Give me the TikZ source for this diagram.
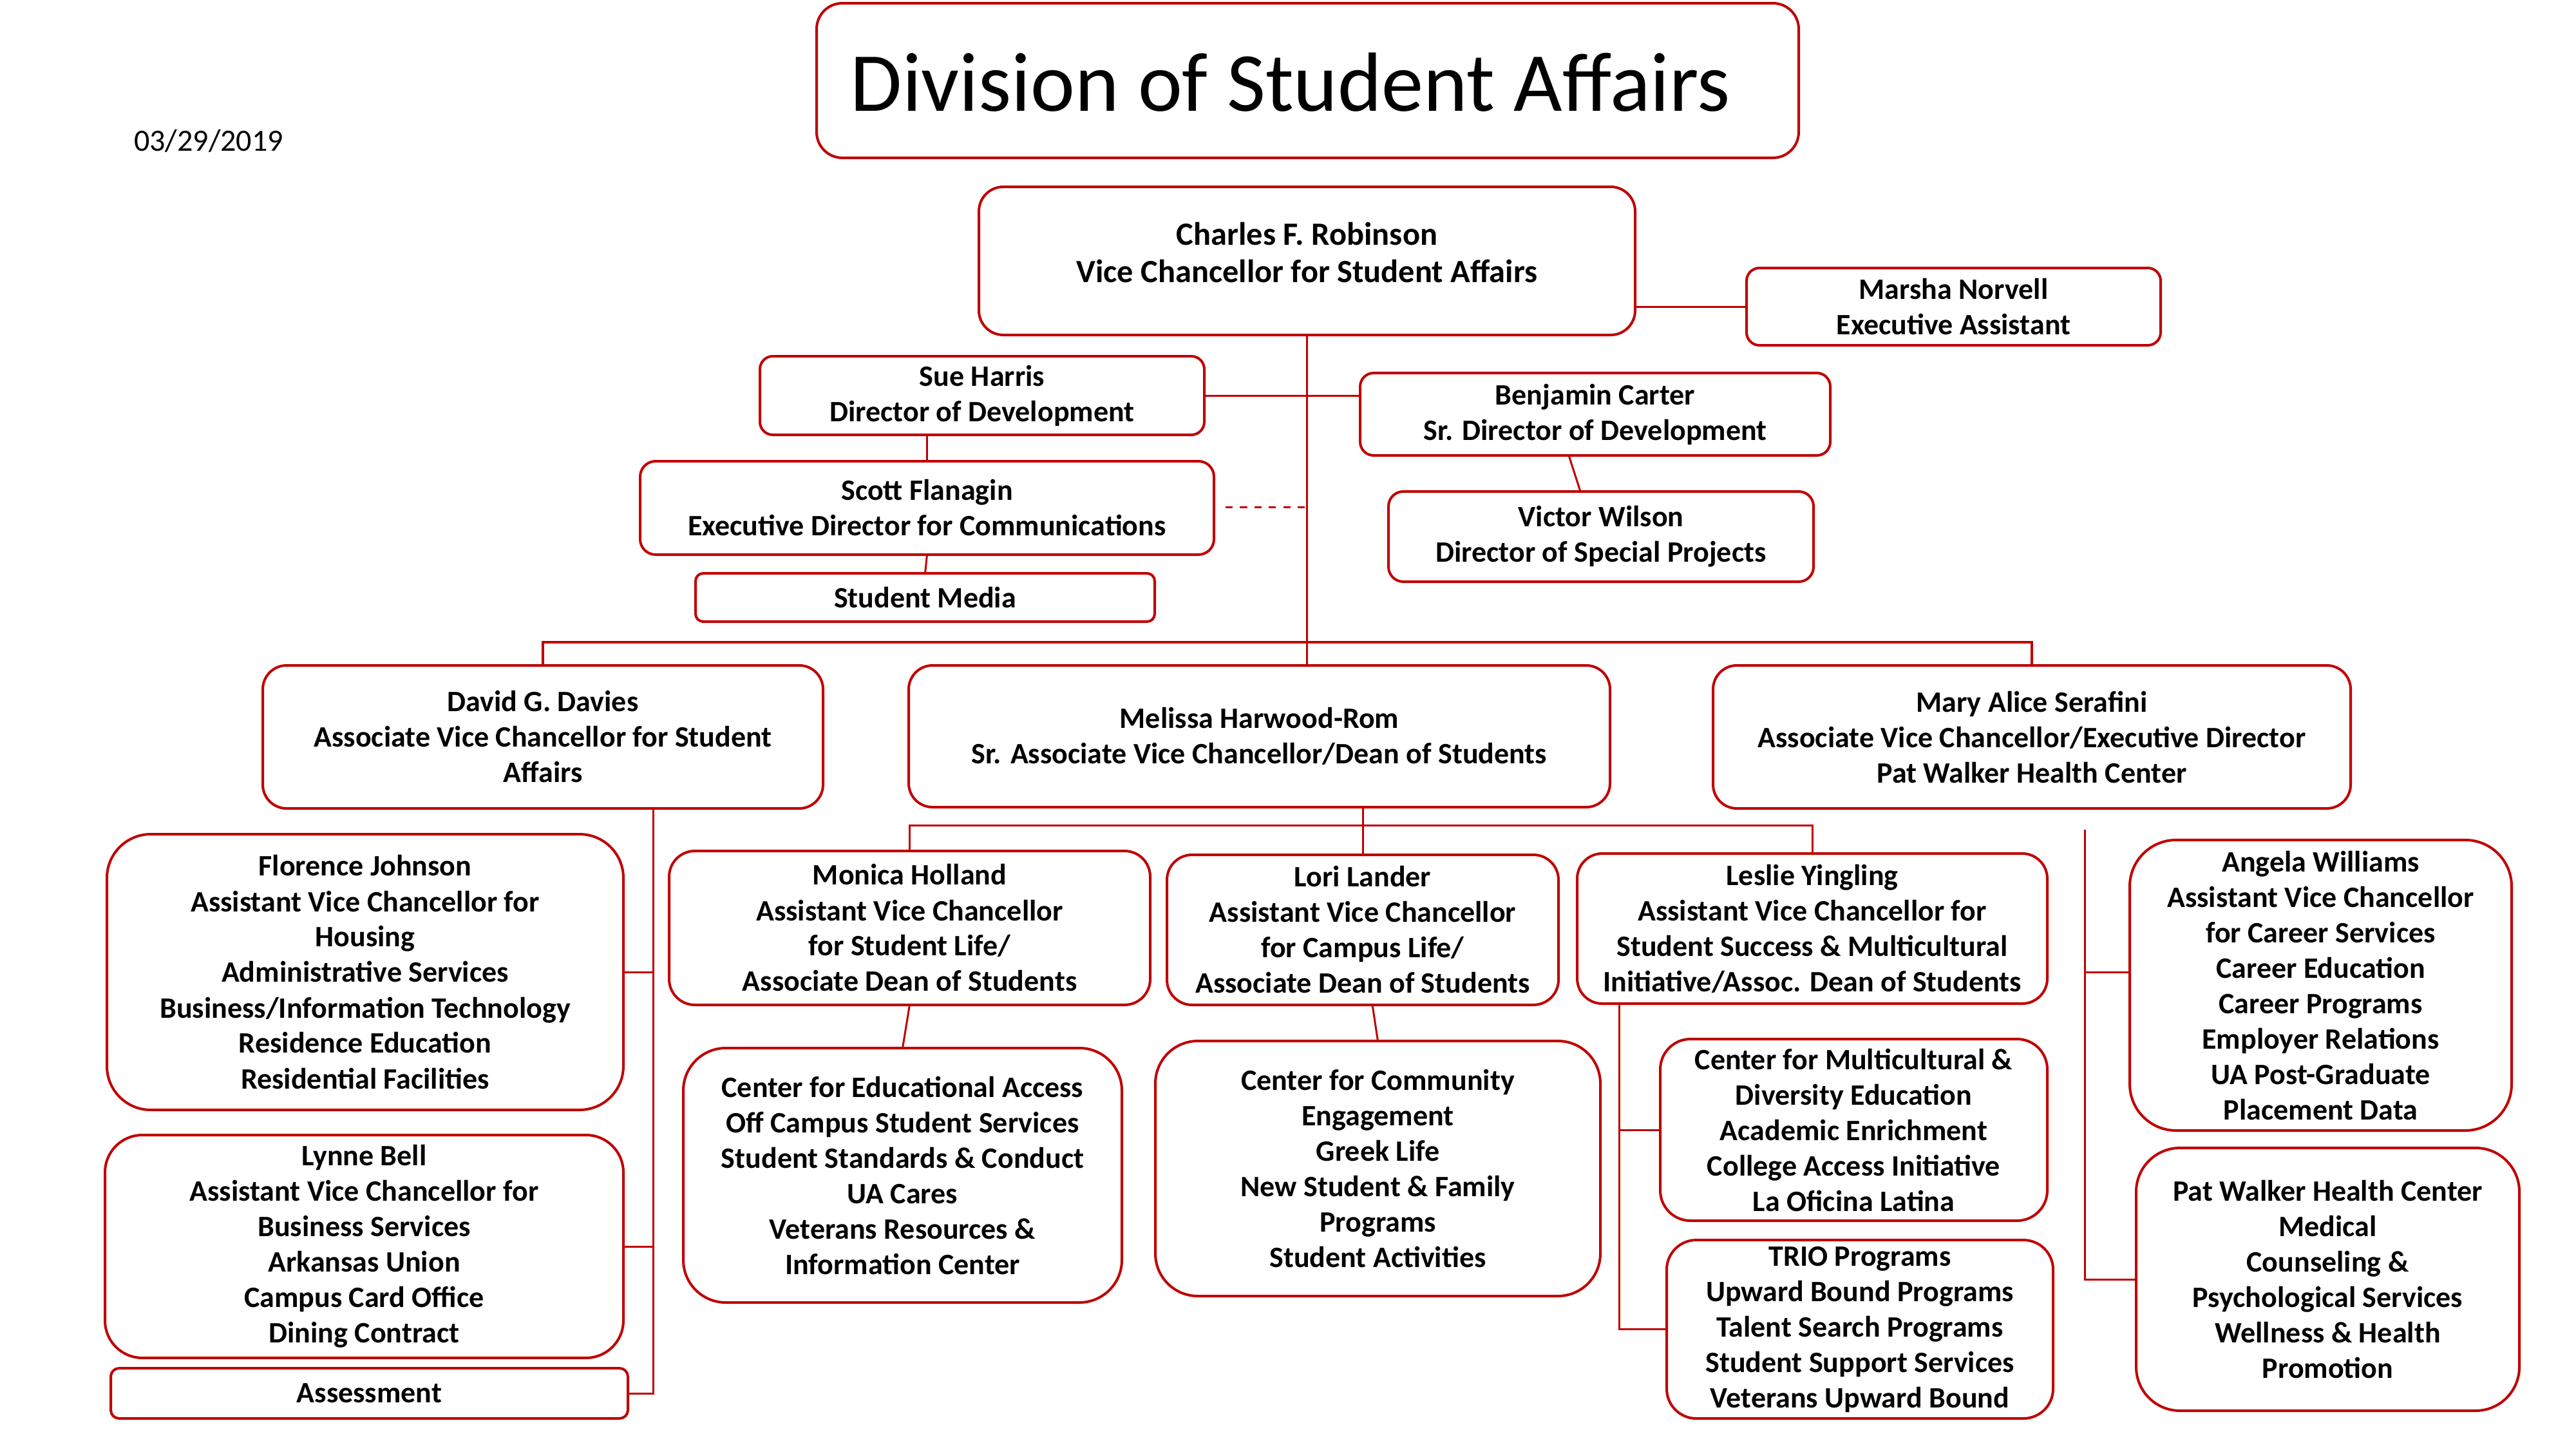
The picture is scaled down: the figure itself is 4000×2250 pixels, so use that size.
\documentclass[tikz,border=0pt]{standalone}
\usepackage{fontspec}
\setmainfont{Carlito}
\usetikzlibrary{calc}
\definecolor{ured}{HTML}{C00000}
\begin{document}
\begin{tikzpicture}[x=0.25pt,y=-0.25pt,
  box/.style={draw=ured,line width=1pt,fill=white,align=center,inner sep=0pt,outer sep=0pt,
    font=\bfseries\fontsize{11.5}{13.75}\selectfont},
  sz/.style 2 args={minimum width=#1*0.25pt,minimum height=#2*0.25pt},
  rc/.style={rounded corners=#1*0.25pt},
  link/.style={draw=ured,line width=0.75pt},
  dashlink/.style={draw=ured,line width=0.75pt,dash pattern=on 2.8pt off 2.8pt}]
\useasboundingbox (0,0) rectangle (4000,2250);

% header
\node[box,sz={1525}{240},rc=40] (title) at (2030.5,125) {};
\node[inner sep=0pt,font=\fontsize{32.6}{39}\selectfont] (titletext) at (2004,128) {Division of Student Affairs};
\node[inner sep=0pt,font=\fontsize{12}{14}\selectfont] (date) at (324,219) {03/29/2019};

% top level
\node[box,sz={1019}{230},rc=38] (charles) at (2029.5,405) {};
\node[inner sep=0pt,align=center,font=\bfseries\fontsize{12.6}{14.7}\selectfont] (charlestext) at (2029.5,392) {Charles F. Robinson\\Vice Chancellor for Student Affairs};
\node[box,sz={643}{120},rc=20] (marsha) at (3033.5,476) {Marsha Norvell\\Executive Assistant};
\node[box,sz={690}{122},rc=20] (sue) at (1525,614) {Sue Harris\\Director of Development};
\node[box,sz={730}{128},rc=21] (benjamin) at (2477,643) {Benjamin Carter\\Sr. Director of Development};
\node[box,sz={660}{140},rc=23] (victor) at (2486,833) {Victor Wilson\\Director of Special Projects};
\node[box,sz={891}{145},rc=24] (scott) at (1439.5,788.5) {Scott Flanagin\\Executive Director for Communications};
\node[box,sz={713}{75},rc=12] (media) at (1436.5,927.5) {Student Media};

% second level
\node[box,sz={870}{222},rc=37] (david) at (843,1144) {David G. Davies\\Associate Vice Chancellor for Student\\Affairs};
\node[box,sz={1089}{220},rc=37] (melissa) at (1955.5,1143) {Melissa Harwood-Rom\\Sr. Associate Vice Chancellor/Dean of Students};
\node[box,sz={990}{222},rc=37] (mary) at (3155,1144) {Mary Alice Serafini\\Associate Vice Chancellor/Executive Director\\Pat Walker Health Center};

% David's units
\node[box,sz={802}{428},rc=68] (florence) at (567,1509) {Florence Johnson\\Assistant Vice Chancellor for\\Housing\\Administrative Services\\Business/Information Technology\\Residence Education\\Residential Facilities};
\node[box,sz={805}{346},rc=58] (lynne) at (565.5,1935) {Lynne Bell\\Assistant Vice Chancellor for\\Business Services\\Arkansas Union\\Campus Card Office\\Dining Contract};
\node[box,sz={803}{78},rc=13] (assess) at (573.5,2163) {Assessment};

% Melissa's units
\node[box,sz={747}{239},rc=40] (monica) at (1412.5,1440.5) {Monica Holland\\Assistant Vice Chancellor\\for Student Life/\\Associate Dean of Students};
\node[box,sz={608}{233},rc=39] (lori) at (2116,1443.5) {Lori Lander\\Assistant Vice Chancellor\\for Campus Life/\\Associate Dean of Students};
\node[box,sz={730}{233},rc=39] (leslie) at (2814,1441.5) {Leslie Yingling\\Assistant Vice Chancellor for\\Student Success \& Multicultural\\Initiative/Assoc. Dean of Students};
\node[box,sz={681}{395},rc=66] (cea) at (1401.5,1824.5) {Center for Educational Access\\Off Campus Student Services\\Student Standards \& Conduct\\UA Cares\\Veterans Resources \&\\Information Center};
\node[box,sz={691}{396},rc=66] (community) at (2139.5,1814) {Center for Community\\Engagement\\Greek Life\\New Student \& Family\\Programs\\Student Activities};
\node[box,sz={601}{282},rc=47] (multi) at (2878.5,1754) {Center for Multicultural \&\\Diversity Education\\Academic Enrichment\\College Access Initiative\\La Oficina Latina};
\node[box,sz={600}{277},rc=46] (trio) at (2888,2063.5) {TRIO Programs\\Upward Bound Programs\\Talent Search Programs\\Student Support Services\\Veterans Upward Bound};

% Mary's units
\node[box,sz={593}{451},rc=72] (angela) at (3603.5,1529.5) {Angela Williams\\Assistant Vice Chancellor\\for Career Services\\Career Education\\Career Programs\\Employer Relations\\UA Post-Graduate\\Placement Data};
\node[box,sz={595}{408},rc=68] (pwhc) at (3614.5,1986) {Pat Walker Health Center\\Medical\\Counseling \&\\Psychological Services\\Wellness \& Health\\Promotion};

% connectors: top
\draw[link] (marsha.west -| charles.east) -- (marsha.west);
\draw[link] (charles.south) -- (charles.south |- melissa.north);
\draw[link] (sue.east) -- (sue.east -| benjamin.west);
\draw[link] (scott.north |- sue.south) -- (scott.north);
\draw[link] (scott.south) -- (media.north);
\coordinate (dsh) at (1903,787);
\draw[dashlink] (dsh) -- (dsh -| charles.south);
\draw[link] ($(benjamin.south)+(-41,0)$) -- ($(victor.north)+(-32,0)$);

% bar to second level
\coordinate (bar) at (2031,997);
\draw[link,line width=0.9pt] (david.north) -- (david.north |- bar) -- (mary.north |- bar) -- (mary.north);

% David
\coordinate (dv) at (1014,0);
\draw[link] (david.south -| dv) -- (assess.east -| dv) -- (assess.east);
\draw[link] (florence.east) -- (florence.east -| dv);
\draw[link] (lynne.east) -- (lynne.east -| dv);

% Melissa
\coordinate (bar2) at (2117,1281);
\draw[link] (lori.north |- melissa.south) -- (lori.north);
\draw[link] (monica.north) -- (monica.north |- bar2) -- (leslie.north |- bar2) -- (leslie.north);
\draw[link] (monica.south) -- (cea.north);
\draw[link] ($(lori.south)+(15,0)$) -- (community.north);
\coordinate (lv) at (2514,0);
\draw[link] (leslie.south -| lv) -- (trio.west -| lv) -- (trio.west);
\draw[link] (multi.west -| lv) -- (multi.west);

% Mary
\coordinate (mv) at (3237,1288);
\draw[link] (mv) -- (pwhc.west -| mv) -- (pwhc.west);
\coordinate (ang) at (3237,1509);
\draw[link] (ang) -- (ang -| angela.west);
\end{tikzpicture}
\end{document}
